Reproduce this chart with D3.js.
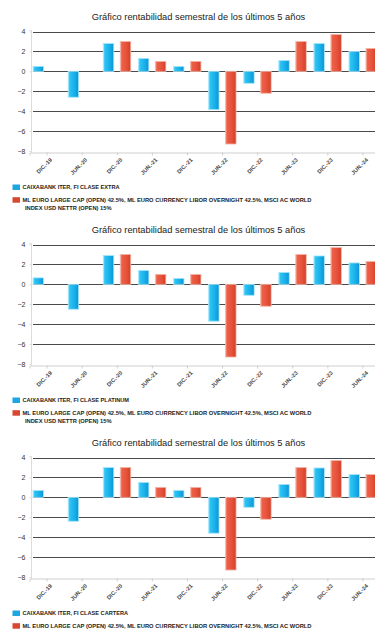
<!DOCTYPE html>
<html>
<head>
<meta charset="utf-8">
<script src="https://cdn.jsdelivr.net/npm/d3@7"></script>
<style>
  html, body { margin: 0; padding: 0; background: #fff; overflow: hidden; }
  svg { display: block; font-family: "Liberation Sans", Arial, sans-serif; }
</style>
</head>
<body>
<svg id="chart" width="375" height="632"></svg>
<script>
// ---- data ----
const title = "Gráfico rentabilidad semestral de los últimos 5 años";
const categories = ["DIC.-19","JUN.-20","DIC.-20","JUN.-21","DIC.-21","JUN.-22","DIC.-22","JUN.-23","DIC.-23","JUN.-24"];
const fundNames = ["CAIXABANK ITER, FI CLASE EXTRA", "CAIXABANK ITER, FI CLASE PLATINUM", "CAIXABANK ITER, FI CLASE CARTERA"];
const fundExtra    = [0.5, -2.6, 2.8, 1.3, 0.5, -3.85, -1.2, 1.1, 2.8, 2.0];
const fundPlatinum = [0.65, -2.5, 2.9, 1.4, 0.6, -3.7, -1.1, 1.2, 2.85, 2.15];
const fundCartera  = [0.7, -2.4, 3.0, 1.5, 0.7, -3.6, -1.0, 1.3, 2.95, 2.3];
const benchmark    = [null, null, 3.0, 1.0, 1.0, -7.3, -2.2, 3.0, 3.7, 2.3];
const benchmarkNameLines = ["ML EURO LARGE CAP (OPEN) 42.5%, ML EURO CURRENCY LIBOR OVERNIGHT 42.5%, MSCI AC WORLD", "INDEX USD NETTR (OPEN) 15%"];
const yTicks = [4, 2, 0, -2, -4, -6, -8];
const funds = [fundExtra, fundPlatinum, fundCartera];

// ---- drawing ----
const W = 375, H = 632;
const svg = d3.select("#chart");
const defs = svg.append("defs");
function grad(id, stops) {
  const g = defs.append("linearGradient").attr("id", id).attr("x1", "0").attr("x2", "1").attr("y1", "0").attr("y2", "0");
  stops.forEach(s => g.append("stop").attr("offset", s[0]).attr("stop-color", s[1]));
}
grad("gBlue", [[0, "#8fe2fb"], [0.15, "#2ec3f2"], [0.6, "#17b0ea"], [1, "#0f93d4"]]);
grad("gRed", [[0, "#f2a593"], [0.15, "#ee6048"], [0.6, "#e6513a"], [1, "#cf3f29"]]);

const chartH = 213;
const x = d3.scaleBand().domain(categories).range([29.5, 380.5]).padding(0);
const y = d3.scaleLinear().domain([-8, 4]).range([151, 31.5]);
const sub = d3.scaleBand().domain(["fund", "bench"]).range([-14, 13.5]).paddingInner(0.382);

funds.forEach((fund, i) => {
  const offY = i * chartH;
  const g = svg.append("g").attr("transform", `translate(0,${offY})`);

  g.append("text").attr("x", 198.5).attr("y", 19.5).attr("text-anchor", "middle")
    .attr("font-size", 9.3).attr("fill", "#222").text(title);

  // gridlines
  g.selectAll("line.grid").data(yTicks.filter(t => t > -8)).join("line")
    .attr("class", "grid")
    .attr("x1", 33).attr("x2", 385)
    .attr("y1", d => Math.round(y(d)) + 0.5).attr("y2", d => Math.round(y(d)) + 0.5)
    .attr("stroke", "#4a4a4a").attr("stroke-width", 1.1);

  // y axis
  const yAxis = d3.axisLeft(y).tickValues(yTicks).tickSize(2).tickPadding(4);
  const ya = g.append("g").attr("transform", "translate(31.5,0)").call(yAxis);
  ya.select(".domain").attr("stroke", "#dcdcdc").attr("d", `M-2,${y(4) - 1}H0V${y(-8) + 1.5}`);
  ya.selectAll(".tick line").attr("stroke", "#dcdcdc");
  ya.selectAll(".tick text").attr("font-size", 7).attr("fill", "#333").attr("font-family", "Liberation Sans, Arial, sans-serif");

  // x axis
  const xAxis = d3.axisBottom(x).tickSize(3).tickPadding(0);
  const xa = g.append("g").attr("transform", "translate(0,152.5)").call(xAxis);
  xa.select(".domain").attr("stroke", "#cfcfcf");
  xa.selectAll(".tick line").attr("stroke", "#cfcfcf");
  xa.selectAll(".tick text")
    .attr("font-size", 5.6).attr("font-weight", "bold").attr("fill", "#444")
    .attr("font-family", "Liberation Sans, Arial, sans-serif")
    .attr("text-anchor", "end")
    .attr("transform", "translate(4,6.5) rotate(-45)")
    .attr("y", 0).attr("dy", "0.35em");

  // bars
  const rows = categories.map((c, k) => ({ c, fund: fund[k], bench: benchmark[k] }));
  const barG = g.append("g");
  ["fund", "bench"].forEach(key => {
    barG.selectAll(`rect.${key}`).data(rows.filter(r => r[key] !== null)).join("rect")
      .attr("class", key)
      .attr("x", d => x(d.c) + x.bandwidth() / 2 + sub(key))
      .attr("width", sub.bandwidth())
      .attr("y", d => y(Math.max(0, d[key])))
      .attr("height", d => Math.abs(y(d[key]) - y(0)))
      .attr("fill", key === "fund" ? "url(#gBlue)" : "url(#gRed)")
      .attr("stroke", key === "fund" ? "#a8e6fa" : "#f3b7a8")
      .attr("stroke-width", 0.8);
  });

  // legend
  const lg = g.append("g").attr("font-size", 5.6).attr("font-weight", "bold").attr("fill", "#222");
  lg.append("rect").attr("x", 12.5).attr("y", 184.5).attr("width", 7.5).attr("height", 5.5).attr("fill", "#1ea6e3");
  lg.append("text").attr("x", 22.5).attr("y", 189.4).text(fundNames[i])
    .attr("textLength", [97, 106.5, 105.5][i]).attr("lengthAdjust", "spacingAndGlyphs");
  lg.append("rect").attr("x", 12.5).attr("y", 197.2).attr("width", 7.5).attr("height", 5.5).attr("fill", "#d9472f");
  lg.append("text").attr("x", 22.5).attr("y", 202.1).text(benchmarkNameLines[0])
    .attr("textLength", 289).attr("lengthAdjust", "spacingAndGlyphs");
  // second legend line only where it fits inside the page (the reference crops it in the last chart)
  if (offY + 209.5 <= H - 1) {
    lg.append("text").attr("x", 25).attr("y", 209.5).text(benchmarkNameLines[1])
      .attr("textLength", 86.5).attr("lengthAdjust", "spacingAndGlyphs");
  }
});
</script>
</body>
</html>
